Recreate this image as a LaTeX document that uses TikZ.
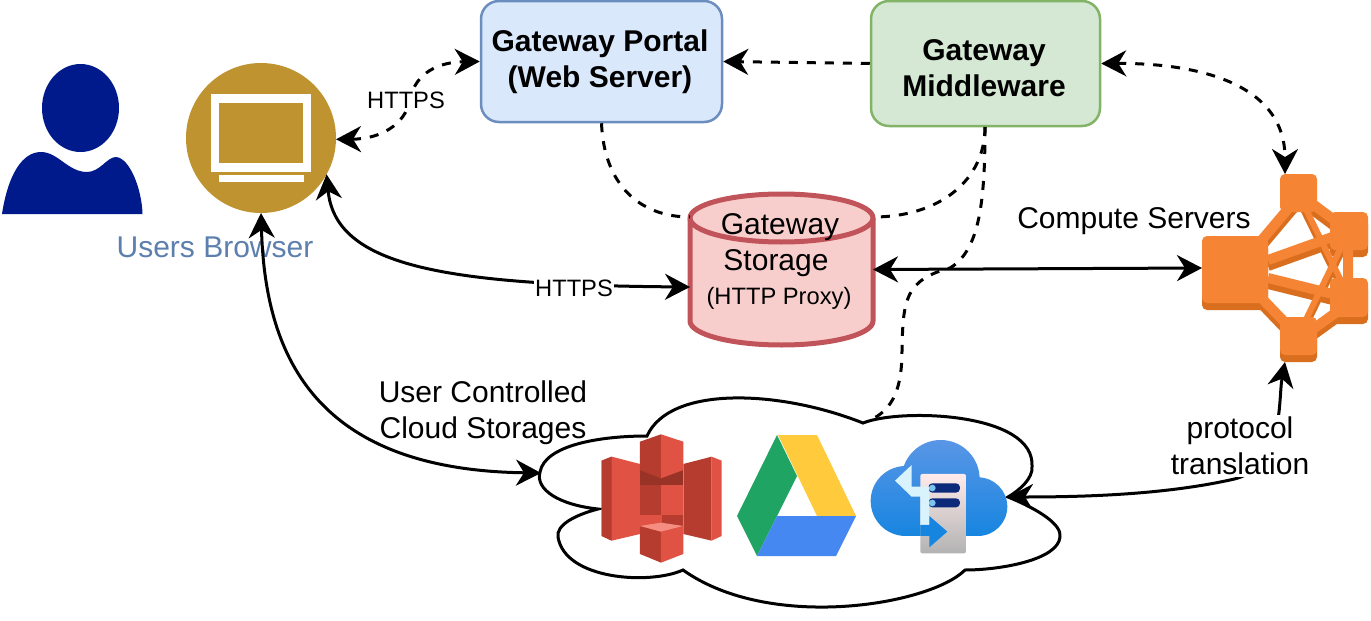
\documentclass[tikz,border=0pt]{standalone}
\usepackage{fontspec}
\setmainfont{Liberation Sans}
\usetikzlibrary{arrows.meta}
\definecolor{navyp}{HTML}{001A8C}
\definecolor{gold}{HTML}{BF9430}
\definecolor{orangeA}{HTML}{F58534}
\definecolor{orangeB}{HTML}{D96F1E}
\definecolor{sA}{HTML}{E05243}
\definecolor{sB}{HTML}{B53C2E}
\definecolor{sC}{HTML}{F58E80}
\definecolor{portalF}{HTML}{DAE8FC}
\definecolor{portalD}{HTML}{6C8EBF}
\definecolor{midF}{HTML}{D5E8D4}
\definecolor{midD}{HTML}{82B366}
\definecolor{stF}{HTML}{F8CECC}
\definecolor{stD}{HTML}{C0545A}
\definecolor{ubT}{HTML}{5C7FAE}
\definecolor{drG}{HTML}{1FA463}
\definecolor{drY}{HTML}{FFCB3D}
\definecolor{drB}{HTML}{4688F1}
\definecolor{clT}{HTML}{5B96E6}
\definecolor{clB}{HTML}{1585E0}
\definecolor{pill}{HTML}{0D2A7A}
\definecolor{pillC}{HTML}{7CC4F0}
\tikzset{
  conn/.style={line width=3pt,black},
  dashline/.style={conn,dash pattern=on 9pt off 9pt},
  both/.style={{Stealth[length=25pt,width=26pt,inset=8pt]}-{Stealth[length=25pt,width=26pt,inset=8pt]}},
  tip/.style={-{Stealth[length=25pt,width=26pt,inset=8pt]}},
  box/.style={rounded corners=18pt,line width=2.5pt,inner sep=0pt},
  boxtext/.style={inner sep=0pt,align=center,font=\fontsize{30}{36}\selectfont\bfseries},
  lab/.style={inner sep=1pt,align=center,font=\fontsize{30}{36}\selectfont},
  small/.style={lab,font=\fontsize{23.7}{28}\selectfont},
  link/.style={line width=10pt,orangeA},
  thin link/.style={line width=6pt,orangeA},
  linkS/.style={line width=10pt,orangeB},
  thin linkS/.style={line width=6pt,orangeB},
}
\begin{document}
\begin{tikzpicture}[x=1pt,y=-1pt]
\useasboundingbox (0,0) rectangle (1371,621);
% person
\fill[navyp] (80.5,108) ellipse [x radius=38.5,y radius=44];
\fill[navyp] (2,214) .. controls (8,175) and (22,152) .. (41,152) .. controls (58,152) and (68,172) .. (87,172) .. controls (100,172) and (107,157) .. (116,157) .. controls (130,158) and (142,190) .. (142.5,214) -- cycle;
% browser
\node[circle,fill=gold,minimum size=150pt,inner sep=0pt,outer sep=0pt] (browser) at (261,138) {};
\fill[white] (211,94) rectangle (311,172);
\fill[gold] (219,103) rectangle (303,163);
\fill[white] (219,175) rectangle (304,182);
\node[lab,text=ubT] (ub) at (215,247) {Users Browser};
% portal / middleware
\node[box,draw=portalD,fill=portalF,minimum width=241pt,minimum height=121pt] (portal) at (601.5,61.5) {};
\node[boxtext] (portalT) at (600,61.5) {Gateway Portal\\(Web Server)};
\node[box,draw=midD,fill=midF,minimum width=229pt,minimum height=125pt] (middle) at (985.5,63.5) {};
\node[boxtext] (middleT) at (984,68) {Gateway\\Middleware};
% storage
\node[minimum width=183pt,minimum height=151pt,inner sep=0pt,outer sep=0pt] (storage) at (781.5,269.5) {};
\coordinate (stTL) at (690,217);
\coordinate (stTR) at (873,217);
\coordinate (stIn) at (690,287);
\draw[line width=5pt,draw=stD,fill=stF]
  (690,218) -- (690,321) arc[start angle=180,end angle=0,x radius=91.5,y radius=24] -- (873,218) arc[start angle=0,end angle=-180,x radius=91.5,y radius=24] -- cycle;
\draw[line width=5pt,draw=stD] (690,218) arc[start angle=180,end angle=0,x radius=91.5,y radius=24];
\node[lab] (st1) at (780,227) {Gateway};
\node[lab] (st2) at (776,263) {Storage};
\node[small] (st3) at (779,298) {(HTTP Proxy)};
% cloud
\coordinate (cloudW) at (541,473);
\coordinate (cloudE) at (1008,497);
\coordinate (cloudN) at (868,421);
\coordinate (midS) at (985,127);
\draw[line width=3pt,fill=white] (647,436) .. controls (670,385) and (780,390) .. (863,423)
  .. controls (900,408) and (1036,412) .. (1032,467)
  .. controls (1033,478) and (1020,490) .. (1008,497)
  .. controls (1040,510) and (1062,525) .. (1060,537)
  .. controls (1058,560) and (1000,570) .. (965,570)
  .. controls (930,605) and (770,632) .. (683,570)
  .. controls (650,585) and (565,580) .. (558,537)
  .. controls (556,525) and (575,515) .. (598,509)
  .. controls (560,505) and (535,490) .. (540,472)
  .. controls (545,445) and (600,436) .. (647,436) -- cycle;
% S3
\begin{scope}[shift={(530,390)},x=0.3333pt,y=-0.3333pt]
\fill[sA] (215,212) -- (245,200) -- (330,222) -- (330,432) -- (245,452) -- (215,438) -- cycle;
\fill[sB] (215,212) -- (245,200) -- (245,452) -- (215,438) -- cycle;
\fill[sA] (330,222) rectangle (395,432);
\fill[sB] (395,222) rectangle (460,432);
\fill[sB] (460,222) -- (545,200) -- (545,452) -- (460,432) -- cycle;
\fill[sA] (545,200) -- (575,212) -- (575,438) -- (545,452) -- cycle;
\fill[sB!85!black] (330,240) rectangle (460,285);
\fill[sB] (330,155) -- (393,133) -- (393,265) -- (330,240) -- cycle;
\fill[sA] (393,133) -- (460,155) -- (460,240) -- (393,265) -- cycle;
\fill[sB] (330,285) rectangle (393,375);
\fill[sA] (393,285) rectangle (460,375);
\fill[sB] (330,408) -- (393,425) -- (393,518) -- (330,492) -- cycle;
\fill[sA] (393,425) -- (460,408) -- (460,492) -- (393,518) -- cycle;
\fill[sC] (330,408) -- (393,398) -- (460,408) -- (393,425) -- cycle;
\end{scope}
% drive
\fill[drG] (777,435) -- (797,476) -- (757,556) -- (737,516) -- cycle;
\fill[drY] (778,435) -- (817,435) -- (856,516) -- (817,516) -- cycle;
\fill[drB] (777,516) -- (856,516) -- (836,556) -- (757,556) -- cycle;
% cloud icon
\begin{scope}[shift={(800,390)},x=0.3333pt,y=-0.3333pt]
\begin{scope}
\clip (422,267) circle [radius=117] (317,333) circle [radius=105] (534,350) circle [radius=88] (534,300) rectangle (317,438);
\shade[top color=clT,bottom color=clB] (205,145) rectangle (630,445);
\end{scope}
\shade[rounded corners=2pt,top color=white!92!red,bottom color=black!30!white] (361,252) rectangle (498,490);
\fill[pill,rounded corners=4pt] (385,280) rectangle (480,308);
\fill[pill,rounded corners=4pt] (385,325) rectangle (480,352);
\fill[pillC] (397,294) circle [radius=10];
\fill[pillC] (397,339) circle [radius=10];
\fill[white!85!cyan] (285,272) -- (335,225) -- (335,290) -- (388,290) -- (388,405) -- (361,405) -- (361,320) -- (335,320) -- cycle;
\fill[clB] (361,405) -- (388,405) -- (388,378) -- (442,425) -- (388,472) -- (388,438) -- (361,438) -- cycle;
\end{scope}
% compute servers
\node[minimum width=166pt,minimum height=188pt,inner sep=0pt,outer sep=0pt] (compute) at (1285,268) {};
\begin{scope}[shift={(0,6)}]
\draw[linkS] (1255,248) -- (1298,197) (1250,286) -- (1298,336) (1268,260) -- (1349,231) (1268,278) -- (1349,298) (1298,193) -- (1349,231) (1298,340) -- (1349,303);
\draw[thin linkS] (1298,193) -- (1349,297) (1298,336) -- (1349,231);
\end{scope}
\fill[orangeB,rounded corners=5pt] (1202,243) rectangle (1268,310);
\fill[orangeB,rounded corners=5pt] (1280,324) rectangle (1317,362);
\fill[orangeB,rounded corners=5pt] (1330,285) rectangle (1368,324);
\fill[orangeB,rounded corners=5pt] (1330,219) rectangle (1368,257);
\draw[link] (1255,248) -- (1298,197) (1250,286) -- (1298,336) (1268,260) -- (1349,231) (1268,278) -- (1349,298) (1298,193) -- (1349,231) (1298,340) -- (1349,303) (1348,231) -- (1348,297);
\draw[thin link] (1298,193) -- (1349,297) (1298,336) -- (1349,231);
\fill[orangeA,rounded corners=5pt] (1202,236) rectangle (1268,303);
\fill[orangeA,rounded corners=5pt] (1280,174) rectangle (1317,212);
\fill[orangeA,rounded corners=5pt] (1330,212) rectangle (1368,250);
\fill[orangeA,rounded corners=5pt] (1330,278) rectangle (1368,317);
\fill[orangeA,rounded corners=5pt] (1280,317) rectangle (1317,355);
% connectors
\draw[dashline,both] (browser.-1) .. controls (380,139) and (405,125) .. (410,100) .. controls (415,72) and (440,62) .. (portal.west);
\draw[dashline,tip] (middle.west) -- (portal.east);
\draw[dashline,both] (middle.east) .. controls (1190,63) and (1285,80) .. (compute.north);
\draw[dashline] (portal.south) .. controls (604,185) and (640,217) .. (stTL);
\draw[dashline] (midS) .. controls (985,180) and (940,217) .. (stTR);
\draw[dashline] (midS) .. controls (985,200) and (980,250) .. (950,268) .. controls (905,280) and (903,300) .. (902,350) .. controls (902,385) and (895,410) .. (cloudN);
\draw[conn,both] (browser.-29) .. controls (335,265) and (440,285) .. (stIn);
\draw[conn,both] (browser.south) .. controls (265,350) and (310,470) .. (cloudW);
\draw[conn,both] (storage.east) -- (compute.west);
\draw[conn,both] (compute.south) .. controls (1278,400) and (1285,470) .. (1230,480) .. controls (1170,493) and (1100,497) .. (cloudE);
% labels
\node[small,fill=white] (h1) at (406,100) {HTTPS};
\node[small,fill=white] (h2) at (574,288) {HTTPS};
\node[lab] (cs) at (1134,221) {Compute Servers};
\node[lab] (uc) at (483,412.5) {User Controlled\\Cloud Storages};
\node[lab,fill=white,inner sep=2pt] (pt) at (1240,446) {protocol\\translation};
\end{tikzpicture}
\end{document}
